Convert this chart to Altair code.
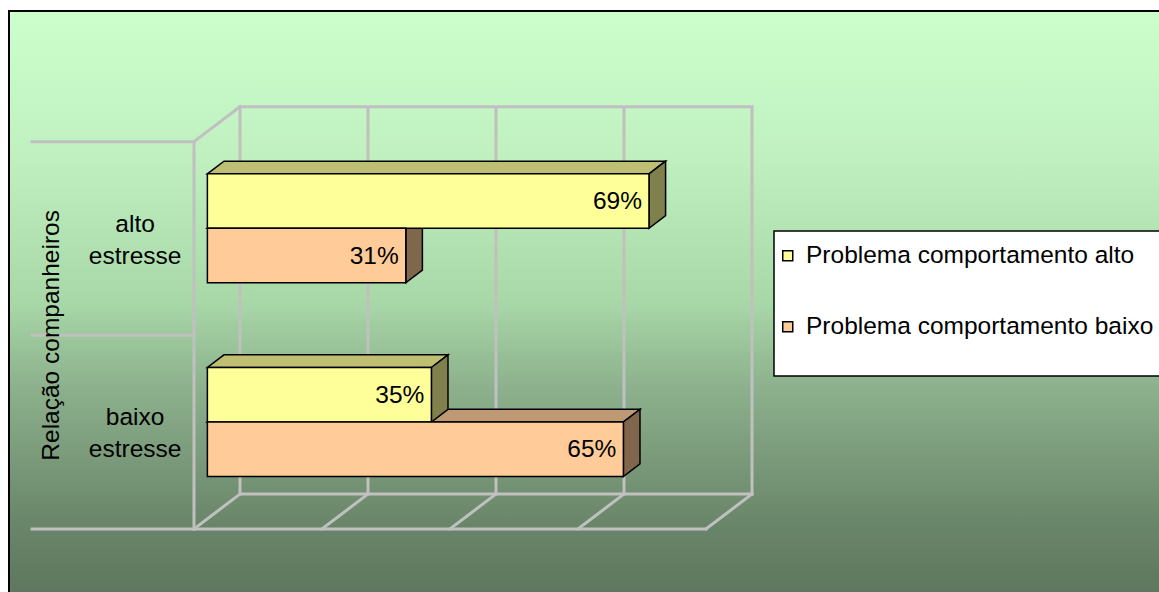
import altair as alt
import pandas as pd

# ---------------- data ----------------
categories = ["alto estresse", "baixo estresse"]
series = ["Problema comportamento alto", "Problema comportamento baixo"]
values_high = [69, 35]   # Problema comportamento alto
values_low = [31, 65]    # Problema comportamento baixo
grid_ticks = [0, 20, 40, 60, 80]
axis_title = "Relação companheiros"

front_colors = ["#FFFF99", "#FFCC99"]
top_colors = ["#BFBF73", "#BF9973"]
side_colors = ["#80804D", "#80664D"]

FONT = "Liberation Sans"
FS = 24.5

# ---------------- 3D geometry (data units) ----------------
DX = 7.1875     # depth shift along x (percent) for full depth
DY = -0.1807    # depth shift along y (category units) for full depth
DF, DB = 0.291, 0.652   # bar front / back depth
H = 0.2814      # bar thickness (category units)
LEFT = -25.3    # left end of category separator lines

W, HGT = 1150, 581
xs = alt.Scale(domain=[0, 80], range=[185, 697], nice=False, zero=False)
ys = alt.Scale(domain=[0, 2], range=[130.7, 518], nice=False, zero=False)


def X(f):
    return alt.X(f, type="quantitative", scale=xs, axis=None)


def Y(f):
    return alt.Y(f, type="quantitative", scale=ys, axis=None)


# grid / wall segments
segs = []
for t in grid_ticks:
    segs.append(dict(x=t + DX, y=DY, x2=t + DX, y2=2 + DY))
    segs.append(dict(x=t, y=2, x2=t + DX, y2=2 + DY))
segs += [
    dict(x=DX, y=DY, x2=grid_ticks[-1] + DX, y2=DY),
    dict(x=DX, y=2 + DY, x2=grid_ticks[-1] + DX, y2=2 + DY),
    dict(x=0, y=0, x2=0, y2=2),
    dict(x=0, y=0, x2=DX, y2=DY),
    dict(x=LEFT, y=0, x2=0, y2=0),
    dict(x=LEFT, y=1, x2=0, y2=1),
    dict(x=LEFT, y=2, x2=grid_ticks[-1], y2=2),
]
grid_df = pd.DataFrame(segs)

# bars
fronts, tops, sides, labels = [], [], [], []
a, b = DF * DX, DB * DX
for c, cat in enumerate(categories):
    for s, (ser, vals) in enumerate(zip(series, [values_high, values_low])):
        v = vals[c]
        bid = f"{c}-{s}"
        y_top = c + 0.5 - H if s == 0 else c + 0.5
        y_bot = y_top + H
        yf_t, yb_t = y_top + DF * DY, y_top + DB * DY
        yf_b, yb_b = y_bot + DF * DY, y_bot + DB * DY
        fronts.append(dict(series=ser, x=a, x2=v + a, y=yf_t, y2=yf_b))
        labels.append(dict(series=ser, x=v + a, y=(yf_t + yf_b) / 2, text=f"{v}%"))
        for px, py, py2 in [(a, yf_t, yf_t), (b, yf_t, yb_t),
                            (v + a, yf_t, yb_t), (v + b, yb_t, yb_t)]:
            tops.append(dict(series=ser, bid=bid, x=px, y=py, y2=py2))
        for py, px, px2 in [(yb_t, v + b, v + b), (yf_t, v + a, v + b),
                            (yb_b, v + a, v + b), (yf_b, v + a, v + a)]:
            sides.append(dict(series=ser, bid=bid, y=py, x=px, x2=px2))

fronts_df = pd.DataFrame(fronts)
tops_df = pd.DataFrame(tops)
sides_df = pd.DataFrame(sides)
labels_df = pd.DataFrame(labels)
cat_df = pd.DataFrame(dict(text=[c.replace(" ", "\n") for c in categories],
                           x=[-9.2] * len(categories),
                           y=[i + 0.5 for i in range(len(categories))]))
title_df = pd.DataFrame(dict(text=[axis_title], x=[-22.2], y=[1.0]))
one = pd.DataFrame(dict(k=[0]))

gradient = alt.LinearGradient(
    gradient="linear", x1=0, x2=0, y1=0, y2=1,
    stops=[alt.GradientStop(color="#CCFFCC", offset=0),
           alt.GradientStop(color="#C0F0C0", offset=0.25),
           alt.GradientStop(color="#A8D8A8", offset=0.5),
           alt.GradientStop(color="#8CB08C", offset=0.65),
           alt.GradientStop(color="#6A866A", offset=0.88),
           alt.GradientStop(color="#5E775E", offset=1)])

bg = alt.Chart(one).mark_rect(color=gradient).encode(
    x=alt.value(0), x2=alt.value(W), y=alt.value(0), y2=alt.value(HGT))

grid = alt.Chart(grid_df).mark_rule(color="#C0C0C0", strokeWidth=3, strokeCap="square").encode(
    x=X("x"), x2="x2", y=Y("y"), y2="y2")

layers = [bg, grid]
for ser in series[::-1]:
    idx = series.index(ser)
    layers.append(
        alt.Chart(tops_df).transform_filter(alt.datum.series == ser)
        .mark_area(fill=top_colors[idx], stroke="black", strokeWidth=1.5, opacity=1,
                   orient="vertical", strokeJoin="miter")
        .encode(x=X("x"), y=Y("y"), y2="y2", detail="bid:N"))
for ser in series[::-1]:
    idx = series.index(ser)
    layers.append(
        alt.Chart(sides_df).transform_filter(alt.datum.series == ser)
        .mark_area(fill=side_colors[idx], stroke="black", strokeWidth=1.5, opacity=1,
                   orient="horizontal", strokeJoin="miter")
        .encode(y=Y("y"), x=X("x"), x2="x2", detail="bid:N"))

fronts_layer = alt.Chart(fronts_df).mark_rect(stroke="black", strokeWidth=1.5, opacity=1).encode(
    x=X("x"), x2="x2", y=Y("y"), y2="y2",
    color=alt.Color("series:N", scale=alt.Scale(domain=series, range=front_colors),
                    legend=alt.Legend(
                        orient="none", legendX=766.5, legendY=232.5, title=None,
                        symbolType="square", symbolSize=100, symbolStrokeColor="black",
                        symbolStrokeWidth=1.5, symbolOpacity=1,
                        labelFont=FONT, labelFontSize=FS, labelColor="black",
                        labelOffset=6, labelLimit=1000, rowPadding=46, padding=0)))
layers.append(fronts_layer)

layers.append(alt.Chart(labels_df).mark_text(
    font=FONT, fontSize=FS, color="black", align="right", baseline="middle", dx=-7, dy=1
).encode(x=X("x"), y=Y("y"), text="text:N"))

layers.append(alt.Chart(cat_df).mark_text(
    font=FONT, fontSize=FS, color="black", align="center", baseline="middle",
    lineBreak="\n", lineHeight=32, dy=-14
).encode(x=X("x"), y=Y("y"), text="text:N"))

layers.append(alt.Chart(title_df).mark_text(
    font=FONT, fontSize=FS, color="black", align="center", baseline="middle", angle=270
).encode(x=X("x"), y=Y("y"), text="text:N"))

legend_box = alt.Chart(one).mark_rect(fill="white", stroke="black", strokeWidth=1.5).encode(
    x=alt.value(765), x2=alt.value(1160), y=alt.value(220), y2=alt.value(365))
layers.append(legend_box)

border_top = alt.Chart(one).mark_rule(color="black", strokeWidth=2).encode(
    x=alt.value(-1), x2=alt.value(W), y=alt.value(0))
border_left = alt.Chart(one).mark_rule(color="black", strokeWidth=2).encode(
    x=alt.value(0), y=alt.value(-1), y2=alt.value(HGT))
layers += [border_top, border_left]

chart = alt.layer(*layers).properties(
    width=W, height=HGT,
    autosize=alt.AutoSizeParams(type="none"),
    padding={"left": 9, "top": 11, "right": 0, "bottom": 0},
    background="white",
).configure_view(stroke=None)

chart.save("out.html", embed_options={"renderer": "svg", "actions": False})
